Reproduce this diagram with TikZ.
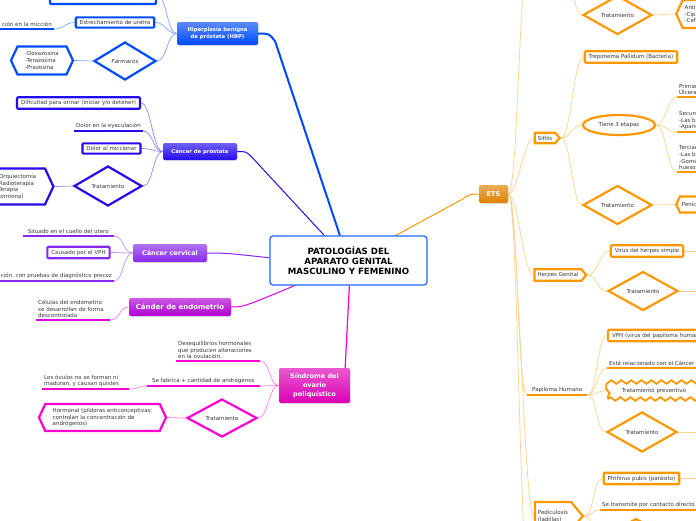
\documentclass[tikz,border=0pt]{standalone}
\usepackage{fontspec}
\setmainfont{DejaVu Sans}
\usepackage{tikz}
\usetikzlibrary{shapes.geometric, shapes.symbols, decorations.pathmorphing, shadows, backgrounds}

\definecolor{rootblue}{RGB}{30,100,255}
\definecolor{hbpblue}{RGB}{0,75,255}
\definecolor{prosviol}{RGB}{35,10,240}
\definecolor{cervpurp}{RGB}{136,40,238}
\definecolor{endomag}{RGB}{176,0,210}
\definecolor{endoleaf}{RGB}{225,0,230}
\definecolor{sopmag}{RGB}{220,0,180}
\definecolor{sopleaf}{RGB}{255,0,210}
\definecolor{etsorange}{RGB}{222,128,0}
\definecolor{etsleaf}{RGB}{255,152,0}
\definecolor{txtgray}{RGB}{55,55,55}

\tikzset{
  rootbox/.style={draw=rootblue, line width=1.2pt, rounded corners=3pt, fill=white, align=center,
    font=\fontsize{8.6}{10}\selectfont\bfseries, minimum width=157, minimum height=49},
  topicbox/.style={rounded corners=2pt, top color=#1!65!white, bottom color=#1, text=white, align=center,
    font=\fontsize{5.3}{6.6}\selectfont\bfseries, inner sep=1pt,
    drop shadow={opacity=0.2, shadow xshift=0.6pt, shadow yshift=-0.8pt}},
  leafbox/.style={draw=#1, line width=2.2pt, fill=white, rounded corners=1pt, text=txtgray,
    font=\fontsize{5.5}{6.6}\selectfont, inner xsep=4pt, inner ysep=3pt},
  ultext/.style={text=txtgray, font=\fontsize{5.5}{6.6}\selectfont, inner sep=2pt,
    append after command={(\tikzlastnode.south west) edge[draw=#1, line width=2.2pt] (\tikzlastnode.south east)}},
  diambox/.style={diamond, draw=#1, line width=2.2pt, fill=white, text=txtgray,
    font=\fontsize{5.5}{6.6}\selectfont, inner sep=0pt, minimum width=69, minimum height=39},
  hexbox/.style={signal, signal to=east and west, signal pointer angle=130, draw=#1, line width=2.2pt,
    fill=white, text=txtgray, font=\fontsize{5.5}{6.6}\selectfont, inner sep=2pt},
  tagbox/.style={signal, signal to=east, signal pointer angle=100, draw=#1, line width=2.2pt,
    fill=white, text=txtgray, font=\fontsize{5.5}{6.6}\selectfont, inner sep=3pt},
  zigbox/.style={draw=#1, line width=1.8pt, fill=white, text=txtgray, decorate,
    decoration={zigzag, segment length=10pt, amplitude=1.8pt}, font=\fontsize{5.5}{6.6}\selectfont},
  lnk/.style={draw=#1, line width=0.7pt},
  fanl/.style={out=180, in=0, distance=10pt},
  fanr/.style={out=0, in=180, distance=10pt}
}

\begin{document}
\begin{tikzpicture}[x=1pt, y=-1pt]
\useasboundingbox (0,0) rectangle (696,520);

% centro
\node[rootbox] (root) at (348.5,260.5) {PATOLOGÍAS DEL\\APARATO GENITAL\\MASCULINO Y FEMENINO};

% Hiperplasia benigna de prostata
\node[topicbox=hbpblue, minimum width=81, minimum height=23] (hbp) at (217.5,33.5) {Hiperplasia benigna\\de próstata (HBP)};
\node[leafbox=hbpblue, minimum width=106, minimum height=16] (hbpcut) at (103,-4) {};
\node[leafbox=hbpblue] (uretra) at (115,22.5) {Estrechamiento de uretra};
\node[ultext=hbpblue, anchor=south east] (miccion) at (54,29) {ción en la micción};
\node[diambox=hbpblue, minimum width=62, minimum height=38, font=\fontsize{5.5}{6.6}\selectfont\itshape] (farmacos) at (125,61) {Fármacos};
\node[hexbox=hbpblue, minimum width=62, minimum height=28, align=left] (alfa) at (42,60.5) {-Doxazosina\\-Terazosina\\-Prazosina};

% Cancer de prostata
\node[topicbox=prosviol, minimum width=74, minimum height=17] (cprost) at (200,151.5) {Cáncer de próstata};
\node[leafbox=prosviol] (dific) at (78.5,103) {Dificultad para orinar (iniciar y/o detener)};
\node[ultext=prosviol, anchor=south east] (eyac) at (143,131) {Dolor en la eyaculación};
\node[leafbox=prosviol] (dolmic) at (111.5,148.5) {Dolor al miccionar};
\node[diambox=prosviol, minimum width=68, minimum height=40] (tratpros) at (108,186) {Tratamiento};
\node[hexbox=prosviol, minimum width=62, minimum height=36, text width=46, align=left] (orqui) at (20,186.5) {-Orquiectomía\\-Radioterapia\\-Terapia\\hormonal};

% Cancer cervical
\node[topicbox=cervpurp, font=\fontsize{6.5}{8}\selectfont\bfseries, minimum width=74, minimum height=18] (ccerv) at (170,253) {Cáncer cervical};
\node[ultext=cervpurp, anchor=south east, minimum width=91] (utero) at (114,236) {Situado en el cuello del útero};
\node[leafbox=cervpurp] (vph) at (78.5,252.5) {Causado por el VPH};
\node[ultext=cervpurp, anchor=south east] (precoz) at (114,281) {ción, con pruebas de diagnóstico precoz};

% Cancer de endometrio
\node[topicbox=endomag, font=\fontsize{7}{8.5}\selectfont\bfseries, minimum width=102, minimum height=18] (cendo) at (180,307) {Cánder de endometrio};
\node[ultext=endoleaf, anchor=south west, text width=70, align=left] (celulas) at (36,320) {Células del endometrio\\se desarrollan de forma\\descontrolada};

% Sindrome del ovario poliquistico
\node[topicbox=sopmag, font=\fontsize{6.5}{8.6}\selectfont\bfseries, minimum width=71, minimum height=35] (sop) at (314.5,385.5) {Síndrome del\\ovario\\poliquístico};
\node[ultext=sopleaf, anchor=south west, text width=80, align=left] (deseq) at (176,361) {Desequilibrios hormonales\\que producen alteraciones\\en la ovulación.};
\node[ultext=sopleaf, anchor=south east, minimum width=113] (andro) at (260,386) {Se fabrica + cantidad de andrógenos};
\node[ultext=sopleaf, anchor=south west, text width=83, align=left] (ovulos) at (42,389) {Los óvulos no se forman ni\\maduran, y causan quistes};
\node[diambox=sopleaf, minimum width=70, minimum height=38] (tratsop) at (222,418) {Tratamiento};
\node[hexbox=sopleaf, minimum width=127, minimum height=27, align=left] (pildoras) at (102.5,417.5) {Hormonal (píldoras anticonceptivas:\\controlan la concentración de\\andrógenos)};

% ETS
\node[topicbox=etsorange, font=\fontsize{6.5}{8}\selectfont\bfseries, minimum width=29, minimum height=18] (ets) at (493.5,194) {ETS};
\coordinate (gonoin) at (529,-45);
\coordinate (gonoout) at (561,-45);
\coordinate (etsabajo) at (529,570);
\node[diambox=etsleaf] (tratgono) at (617.5,15) {Tratamiento};
\node[hexbox=etsleaf, anchor=west, minimum height=28, align=left] (antib) at (675,14) {Antibióticos:\\-Ciprofloxacino\\-Ceftriaxona};

\node[tagbox=etsleaf] (sifilis) at (545,138) {Sífilis};
\node[leafbox=etsleaf] (trepo) at (631,57) {Treponema Pallidum (Bacteria)};
\node[ellipse, draw=etsleaf, line width=2.2pt, fill=white, text=txtgray, font=\fontsize{5.5}{6.6}\selectfont,
  minimum width=72, minimum height=20] (etapas) at (619,125) {Tiene 3 etapas};
\node[ultext=etsleaf, anchor=south west, align=left] (primaria) at (677,97) {Primaria\\Úlcera};
\node[ultext=etsleaf, anchor=south west, align=left] (secundaria) at (677,132) {Secundaria\\-Las bacterias\\-Aparición};
\node[ultext=etsleaf, anchor=south west, align=left] (terciaria) at (677,172) {Terciaria\\-Las bacterias\\-Gomas\\huesos};
\node[diambox=etsleaf] (tratsif) at (617.5,205) {Tratamiento};
\node[hexbox=etsleaf, anchor=west, minimum height=16] (penic) at (675,204.5) {Penicilina};

\node[tagbox=etsleaf] (herpes) at (558,275) {Herpes Genital};
\node[leafbox=etsleaf] (vhs) at (647,251) {Virus del herpes simple};
\node[diambox=etsleaf, minimum width=70] (tratherp) at (643,291) {Tratamiento};
\coordinate (vhsnext) at (720,251);
\coordinate (tratherpnext) at (720,291);

\node[ultext=etsleaf, anchor=south west, minimum width=60] (papiloma) at (527,395) {Papiloma Humano};
\node[leafbox=etsleaf, anchor=west] (vphb) at (607,335.5) {VPH (virus del papiloma humano)};
\node[ultext=etsleaf, anchor=south west] (cancer) at (607,368) {Está relacionado con el Cáncer cervical};
\node[zigbox=etsleaf, anchor=west, minimum width=92, minimum height=17] (prevent) at (607,390.5) {Tratamiento preventivo};
\node[diambox=etsleaf, minimum width=70, minimum height=40] (tratpap) at (642,432) {Tratamiento};
\coordinate (tratpapnext) at (720,432);

\node[tagbox=etsleaf, align=left, minimum height=28] (pedic) at (553,516) {Pediculosis\\(ladillas)};
\node[leafbox=etsleaf] (phthirus) at (641.5,478.5) {Phthirus pubis (parásito)};
\node[ultext=etsleaf, anchor=south west] (contacto) at (600,510) {Se transmite por contacto directo};
\node[diambox=etsleaf] (tratped) at (636,538) {};
\coordinate (phthirusnext) at (720,478.5);

% conectores
\begin{scope}[on background layer]
\draw[lnk=hbpblue, line width=2pt] (hbp.east) .. controls +(11,0) .. ++(17,8) -- (root.109);
\draw[lnk=prosviol, line width=1pt] (cprost.east) .. controls +(9,0) .. ++(15,6) -- (root.134);
\draw[lnk=cervpurp, line width=1pt] (ccerv.east) .. controls +(18,0) .. (root.178);
\draw[lnk=endoleaf, line width=1pt] (cendo.east) .. controls +(12,0) .. (root.205);
\draw[lnk=sopleaf, line width=1.2pt] (root.272) -- (sop.30);
\draw[lnk=etsleaf, line width=1pt] (ets.west) .. controls +(-9,0) .. ++(-16,5) -- (root.28);

\foreach \n in {hbpcut, uretra, farmacos}
  \draw[lnk=hbpblue!50] (hbp.west) to[fanl] (\n.east);
\draw[lnk=hbpblue!50] (uretra.west) to[fanl] (miccion.south east);
\draw[lnk=hbpblue!50] (farmacos.west) to[fanl] (alfa.east);

\foreach \n in {dific, dolmic, tratpros}
  \draw[lnk=prosviol!50] (cprost.west) to[fanl] (\n.east);
\draw[lnk=prosviol!50] (cprost.west) to[fanl] (eyac.south east);
\draw[lnk=prosviol!50] (tratpros.west) to[fanl] (orqui.east);

\draw[lnk=cervpurp!50] (ccerv.west) to[fanl] (utero.south east);
\draw[lnk=cervpurp!50] (ccerv.west) to[fanl] (vph.east);
\draw[lnk=cervpurp!50] (ccerv.west) to[fanl] (precoz.south east);

\draw[lnk=endoleaf!50] (cendo.west) to[fanl] (celulas.south east);

\draw[lnk=sopleaf!50] (sop.west) to[fanl] (deseq.south east);
\draw[lnk=sopleaf!50] (sop.west) to[fanl] (andro.south east);
\draw[lnk=sopleaf!50] (sop.west) to[fanl] (tratsop.east);
\draw[lnk=sopleaf!50] (andro.south west) to[fanl] (ovulos.south east);
\draw[lnk=sopleaf!50] (tratsop.west) to[fanl] (pildoras.east);

\foreach \n in {gonoin, sifilis.west, herpes.west, papiloma.south west, pedic.west, etsabajo}
  \draw[lnk=etsleaf!45] (ets.east) to[fanr] (\n);
\draw[lnk=etsleaf!45] (gonoout) to[fanr] (tratgono.west);
\draw[lnk=etsleaf!45] (tratgono.east) to[fanr] (antib.west);
\foreach \n in {trepo, etapas, tratsif}
  \draw[lnk=etsleaf!45] (sifilis.east) to[fanr] (\n.west);
\foreach \n in {primaria, secundaria, terciaria}
  \draw[lnk=etsleaf!45] (etapas.east) to[fanr] (\n.south west);
\draw[lnk=etsleaf!45] (tratsif.east) to[fanr] (penic.west);
\draw[lnk=etsleaf!45] (herpes.east) to[fanr] (vhs.west);
\draw[lnk=etsleaf!45] (herpes.east) to[fanr] (tratherp.west);
\draw[lnk=etsleaf!45] (vhs.east) -- (vhsnext);
\draw[lnk=etsleaf!45] (tratherp.east) -- (tratherpnext);
\foreach \n in {vphb.west, cancer.south west, prevent.west, tratpap.west}
  \draw[lnk=etsleaf!45] (papiloma.south east) to[fanr] (\n);
\draw[lnk=etsleaf!45] (tratpap.east) -- (tratpapnext);
\foreach \n in {phthirus.west, contacto.south west, tratped.west}
  \draw[lnk=etsleaf!45] (pedic.east) to[fanr] (\n);
\draw[lnk=etsleaf!45] (phthirus.east) -- (phthirusnext);
\end{scope}
\end{tikzpicture}
\end{document}
